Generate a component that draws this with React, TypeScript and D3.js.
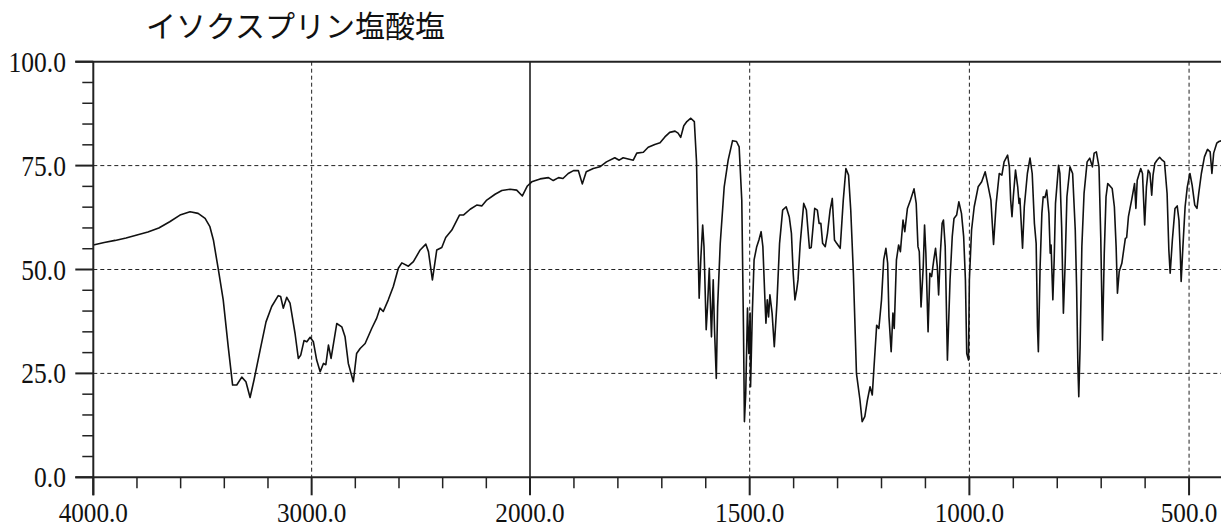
import * as d3 from 'd3';
import React from 'react';

// IR spectrum
const title = 'イソクスプリン塩酸塩';

const wavenumber = [
  4000, 3950, 3900, 3850, 3800, 3750, 3700, 3650, 3603, 3557, 3520, 3488, 3466, 3450, 3427, 3405,
  3382, 3362, 3343, 3320, 3301, 3282, 3264, 3236, 3209, 3183, 3153, 3142, 3130, 3114, 3099, 3076,
  3061, 3050, 3035, 3022, 3007, 2992, 2977, 2961, 2946, 2935, 2923, 2911, 2885, 2862, 2847, 2832,
  2809, 2794, 2778, 2755, 2725, 2702, 2687, 2672, 2649, 2626, 2603, 2587, 2557, 2534, 2503, 2477,
  2465, 2447, 2427, 2404, 2386, 2358, 2323, 2305, 2274, 2244, 2221, 2198, 2160, 2129, 2091, 2061,
  2035, 2012,
  1996, 1977, 1958, 1947, 1935, 1925, 1913, 1901, 1890, 1881, 1872, 1856, 1841, 1826, 1807, 1797,
  1788, 1765, 1757, 1742, 1731, 1716, 1704, 1693, 1682, 1670, 1663, 1657, 1650, 1643, 1634, 1626,
  1621, 1617, 1615, 1611, 1607, 1604, 1599, 1596, 1592, 1587, 1583, 1580, 1576, 1573, 1567, 1558,
  1549, 1539, 1530, 1524, 1518, 1514, 1512, 1509, 1505, 1502, 1499, 1498, 1494, 1490, 1484, 1479,
  1474, 1470, 1465, 1463, 1460, 1457, 1454, 1449, 1444, 1438, 1432, 1425, 1417, 1410, 1405, 1401,
  1397, 1393, 1390, 1385, 1377, 1371, 1364, 1360, 1352, 1346, 1342, 1338, 1334, 1328, 1323, 1317,
  1312, 1307, 1302, 1294, 1287, 1281, 1275, 1270, 1264, 1257, 1249, 1244, 1238, 1232, 1226, 1221,
  1217, 1211, 1206, 1200, 1195, 1190, 1186, 1183, 1178, 1174, 1171, 1166, 1161, 1157, 1151, 1147,
  1141, 1134, 1126, 1121, 1117, 1114, 1110, 1105, 1102, 1099, 1094, 1090, 1086, 1081, 1077, 1073,
  1070, 1066, 1062, 1059, 1055, 1050, 1044, 1039, 1035, 1029, 1024, 1018, 1013, 1009, 1006, 1002,
  1000, 995, 989, 980, 972, 964, 960, 951, 945, 939, 932, 926, 921, 913, 909, 906,
  903, 900, 895, 890, 887, 885, 879, 875, 868, 862, 857, 852, 848, 845, 843, 839,
  835, 832, 828, 824, 819, 816, 814, 812, 810, 807, 804, 797, 794, 790, 786, 782,
  778, 771, 765, 759, 756, 753, 751, 748, 744, 739, 732, 726, 720, 716, 711, 705,
  701, 697, 693, 689, 685, 675, 670, 666, 663, 659, 653, 645, 642, 638, 630, 624,
  621, 618, 610, 606, 601, 597, 593, 589, 585, 582, 578, 573, 567, 561, 556, 550,
  546, 543, 538, 532, 527, 523, 520, 518, 514, 509, 504, 498, 493, 487, 482, 478,
  472, 465, 458, 452, 448, 444, 437, 432, 425,
];

const transmittance = [
  55.9, 56.5, 57.0, 57.6, 58.3, 59.0, 60.0, 61.5, 63.1, 63.9, 63.5, 62.3, 60.3, 57.1, 49.9, 42.7,
  31.4, 22.2, 22.2, 24.1, 23.0, 19.2, 23.4, 30.6, 37.4, 41.1, 43.7, 43.5, 40.7, 43.3, 41.9, 34.6,
  28.6, 29.4, 32.9, 32.6, 33.7, 32.6, 28.2, 25.4, 27.4, 27.1, 31.8, 28.6, 37.0, 36.2, 33.8, 27.4,
  23.0, 29.8, 31.0, 32.2, 35.8, 38.3, 40.7, 39.9, 42.7, 45.9, 50.3, 51.6, 50.8, 51.9, 54.7, 56.1,
  54.3, 47.5, 54.7, 55.3, 57.7, 59.5, 63.1, 63.1, 64.5, 65.5, 65.3, 66.7, 68.1, 69.0, 69.3, 69.1,
  67.7, 70.1,
  71.1, 71.8, 72.1, 71.4, 72.1, 71.9, 73.1, 73.8, 73.8, 70.6, 73.5, 74.3, 74.7, 75.9, 76.9, 76.3,
  76.9, 76.3, 78.0, 78.2, 79.4, 80.1, 80.5, 81.9, 83.0, 83.3, 82.8, 81.8, 84.6, 85.6, 86.4, 85.6,
  76.0, 53.1, 43.1, 53.1, 60.7, 55.5, 35.5, 41.0, 50.3, 33.8, 47.5, 35.4, 23.8, 41.0, 56.3, 69.9,
  76.3, 81.0, 80.8, 79.5, 66.7, 34.6, 13.4, 20.2, 40.7, 29.8, 39.5, 21.8, 39.5, 52.3, 55.5, 57.1,
  59.1, 55.5, 41.9, 37.1, 42.7, 38.6, 43.9, 39.5, 31.4, 41.9, 56.3, 64.3, 65.1, 62.7, 58.7, 49.1,
  42.7, 45.1, 47.5, 56.3, 65.9, 64.3, 55.1, 55.3, 64.7, 64.3, 61.1, 61.1, 56.3, 55.5, 58.7, 64.3,
  67.1, 57.1, 56.3, 55.1, 66.7, 74.3, 72.7, 64.3, 49.1, 25.0, 18.6, 13.4, 14.6, 18.6, 21.8, 19.8,
  26.6, 36.6, 35.8, 42.7, 52.3, 55.1, 51.5, 38.6, 30.2, 39.5, 35.8, 52.3, 55.9, 54.3, 61.9, 59.1,
  64.7, 66.7, 69.4, 65.9, 55.5, 54.3, 41.0, 50.7, 60.7, 53.9, 35.0, 49.1, 48.3, 52.3, 55.1, 50.7,
  43.9, 53.9, 61.1, 61.9, 55.5, 28.2, 47.5, 57.9, 62.3, 63.1, 66.3, 63.5, 57.9, 47.5, 29.8, 28.2,
  47.5, 59.5, 65.1, 69.9, 71.1, 73.5, 71.5, 66.7, 56.0, 65.9, 73.1, 72.7, 75.9, 77.5, 74.7, 66.7,
  62.7, 67.5, 73.9, 69.9, 65.9, 67.1, 55.1, 65.1, 73.1, 76.8, 73.1, 61.1, 56.3, 36.2, 30.2, 50.7,
  63.5, 67.5, 67.3, 69.1, 63.5, 53.9, 55.9, 49.1, 42.7, 52.3, 65.9, 75.1, 73.1, 60.3, 39.5, 51.5,
  67.5, 74.7, 73.1, 59.5, 45.9, 26.6, 19.4, 31.4, 55.5, 68.3, 75.9, 76.8, 74.7, 78.0, 78.3, 74.7,
  57.9, 33.0, 53.9, 67.5, 70.7, 69.5, 65.1, 55.5, 44.3, 49.5, 51.5, 57.5, 57.7, 62.7, 67.1, 70.7,
  64.7, 71.5, 74.3, 73.1, 60.7, 69.9, 73.9, 73.1, 67.9, 72.7, 75.5, 76.3, 77.0, 76.3, 75.9, 68.3,
  54.7, 49.1, 57.1, 64.7, 65.3, 61.9, 53.9, 47.1, 55.5, 65.1, 69.9, 73.1, 70.3, 65.5, 64.7, 68.3,
  73.1, 77.1, 78.9, 78.3, 73.1, 78.0, 80.4, 80.8, 81.0,
];

const yTicks = [0, 25, 50, 75, 100];
const yMinor = d3.range(0, 101, 5).filter(v => v % 25 !== 0);
const xTicks = [4000, 3000, 2000, 1500, 1000, 500];
const xMinor = [
  ...d3.range(3800, 2000, -200).filter(v => v !== 3000),
  ...d3.range(1900, 399, -100).filter(v => v % 500 !== 0),
];
const xDashed = [3000, 1500, 1000, 500];

const W = 1221;
const H = 528;

const App: React.FC = () => {
  // two-part wavenumber axis: 4000-2000 compressed, 2000-400 expanded
  const x = d3.scaleLinear().domain([4000, 2000, 400]).range([93.3, 530, 1233]);
  const y = d3.scaleLinear().domain([0, 100]).range([477.3, 61.7]);

  const pts = wavenumber.map((w, i) => [w, transmittance[i]] as [number, number]);
  const line = d3.line<[number, number]>()
    .x(d => x(d[0]))
    .y(d => y(d[1]));

  const font = '"Liberation Serif", "DejaVu Serif", serif';
  const left = x(4000);
  const bottom = y(0);

  return (
    <svg
      width={W}
      height={H}
      style={{ position: 'absolute', left: 0, top: 0, display: 'block', background: '#fff' }}
    >
      <text
        x={146}
        y={37}
        fontFamily='"Noto Sans CJK JP", sans-serif'
        fontSize={30}
        fill="#111"
      >
        {title}
      </text>

      {/* grid */}
      {[25, 50, 75].map(v => (
        <line key={'h' + v} x1={left} x2={W} y1={y(v)} y2={y(v)}
          stroke="#222" strokeWidth={1} strokeDasharray="4,3" />
      ))}
      {xDashed.map(w => (
        <line key={'v' + w} x1={x(w)} x2={x(w)} y1={y(100)} y2={bottom}
          stroke="#222" strokeWidth={1} strokeDasharray="4,3" />
      ))}
      <line x1={x(2000)} x2={x(2000)} y1={y(100)} y2={bottom} stroke="#111" strokeWidth={1.5} />

      {/* spectrum */}
      <path d={line(pts) ?? ''} fill="none" stroke="#111" strokeWidth={1.6} strokeLinejoin="round" />

      {/* frame */}
      <line x1={left - 18} x2={W} y1={y(100)} y2={y(100)} stroke="#222" strokeWidth={2} />
      <line x1={left - 18} x2={W} y1={bottom} y2={bottom} stroke="#222" strokeWidth={2} />
      <line x1={left} x2={left} y1={y(100)} y2={bottom + 18} stroke="#222" strokeWidth={2} />

      {/* y ticks */}
      {yTicks.map(v => (
        <g key={'yt' + v}>
          <line x1={left - 18} x2={left} y1={y(v)} y2={y(v)} stroke="#222" strokeWidth={2} />
          <text transform={`translate(66,${y(v) + 10}) scale(0.88,1)`} textAnchor="end"
            fontFamily={font} fontSize={29} fill="#111">
            {v.toFixed(1)}
          </text>
        </g>
      ))}
      {yMinor.map(v => (
        <line key={'ym' + v} x1={left - 11} x2={left} y1={y(v)} y2={y(v)} stroke="#222" strokeWidth={1.5} />
      ))}

      {/* x ticks */}
      {xTicks.map(w => (
        <g key={'xt' + w}>
          <line x1={x(w)} x2={x(w)} y1={bottom} y2={bottom + 18} stroke="#222" strokeWidth={2} />
          <text transform={`translate(${x(w)},${bottom + 45}) scale(0.9,1)`} textAnchor="middle"
            fontFamily={font} fontSize={28} fill="#111">
            {w.toFixed(1)}
          </text>
        </g>
      ))}
      {xMinor.map(w => (
        <line key={'xm' + w} x1={x(w)} x2={x(w)} y1={bottom} y2={bottom + 11} stroke="#222" strokeWidth={1.5} />
      ))}
    </svg>
  );
};

export default App;
